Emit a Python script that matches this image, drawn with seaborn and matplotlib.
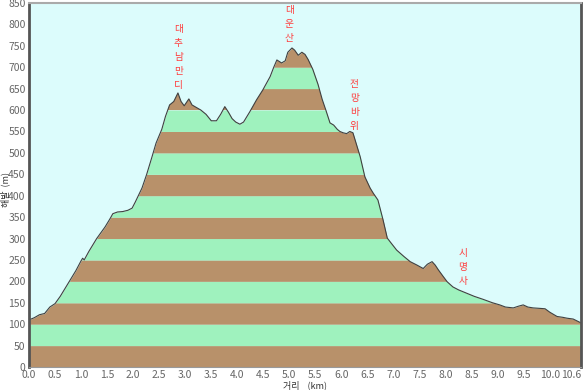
import numpy as np
import pandas as pd
import matplotlib
matplotlib.use("Agg")
import matplotlib.pyplot as plt
import seaborn as sns

# elevation profile (distance km, elevation m)
dist_km = [0.0, 0.1, 0.2, 0.3, 0.4, 0.5, 0.6, 0.75, 0.9, 1.0, 1.03, 1.06, 1.15, 1.3,
           1.46, 1.55, 1.61, 1.7, 1.8, 1.9, 1.98, 2.04, 2.17, 2.26, 2.36, 2.44, 2.55,
           2.62, 2.7, 2.78, 2.86, 2.92, 2.98, 3.07, 3.13, 3.2, 3.3, 3.4, 3.5, 3.6,
           3.68, 3.76, 3.83, 3.9, 3.97, 4.05, 4.12, 4.24, 4.37, 4.49, 4.63, 4.7,
           4.76, 4.85, 4.92, 4.97, 5.05, 5.1, 5.17, 5.24, 5.3, 5.36, 5.45, 5.55,
           5.63, 5.7, 5.78, 5.85, 5.92, 5.97, 6.03, 6.1, 6.16, 6.22, 6.3, 6.36,
           6.45, 6.55, 6.61, 6.7, 6.8, 6.88, 6.95, 7.06, 7.2, 7.32, 7.45, 7.57,
           7.65, 7.74, 7.8, 7.86, 7.95, 8.03, 8.14, 8.25, 8.41, 8.55, 8.72, 8.9,
           9.04, 9.15, 9.3, 9.4, 9.49, 9.58, 9.68, 9.8, 9.91, 10.0, 10.14, 10.25,
           10.33, 10.45, 10.6]
elev_m = [110, 115, 122, 125, 140, 148, 165, 195, 225, 248, 254, 250, 270, 300,
          327, 345, 358, 362, 363, 366, 371, 385, 418, 450, 490, 523, 555,
          585, 612, 620, 640, 620, 610, 626, 612, 607, 600, 590, 575, 575,
          590, 608, 595, 580, 572, 567, 572, 596, 624, 647, 678, 700,
          717, 710, 715, 735, 745, 740, 728, 735, 730, 718, 695, 660,
          625, 600, 570, 565, 555, 550, 547, 545, 550, 547, 515, 491,
          444, 418, 406, 390, 343, 301, 290, 273, 258, 246, 238, 230,
          240, 246, 238, 227, 212, 199, 187, 180, 172, 165, 158, 150,
          145, 140, 138, 142, 145, 140, 138, 137, 136, 128, 118, 116,
          114, 112, 103]

# place names (vertical labels)
place_names = ["대추남만디", "대운산", "전망바위", "시명사"]
place_km = [2.87, 5.0, 6.25, 8.33]
place_top_m = [800, 845, 673, 278]

band_step = 50
y_max = 850
x_ticks = [0.0, 0.5, 1.0, 1.5, 2.0, 2.5, 3.0, 3.5, 4.0, 4.5, 5.0, 5.5, 6.0, 6.5,
           7.0, 7.5, 8.0, 8.5, 9.0, 9.5, 10.0, 10.6]

sns.set_style("white")
plt.rcParams["font.family"] = ["Noto Sans CJK KR", "DejaVu Sans"]

df = pd.DataFrame({"dist": dist_km, "elev": elev_m})

fig = plt.figure(figsize=(5.83, 3.90), dpi=100)
ax = fig.add_axes([29 / 583, 1 - 367 / 390, 552 / 583, 364 / 390])
ax.set_facecolor("#dcfcfc")

# fine grid so the band clipping follows the profile
xs = np.linspace(0, 10.6, 2000)
ys = np.interp(xs, df["dist"], df["elev"])
brown, green = "#b8916a", "#9ff2be"
for i, lo in enumerate(range(0, y_max, band_step)):
    hi = lo + band_step
    top = np.clip(ys, lo, hi)
    ax.fill_between(xs, lo, top, where=ys > lo, interpolate=True,
                    color=brown if i % 2 == 0 else green, linewidth=0)

sns.lineplot(data=df, x="dist", y="elev", ax=ax, color="#404040", linewidth=0.8)

for name, k, t in zip(place_names, place_km, place_top_m):
    ax.text(k, t, "\n".join(name), color="#ff3c3c", fontsize=7, ha="center",
            va="top", linespacing=1.5)

ax.set_xlim(0, 10.6)
ax.set_ylim(0, y_max)
ax.set_xticks(x_ticks)
ax.set_xticklabels([f"{v:.1f}" for v in x_ticks])
ax.get_xticklabels()[-1].set_horizontalalignment("right")
ax.set_yticks(range(0, y_max + 1, 50))
ax.tick_params(axis="both", labelsize=7.5, labelcolor="#666666", color="#666666",
               length=2, width=0.8, direction="out", pad=0.5)
ax.set_xlabel("")
ax.set_ylabel("")

for side in ["left", "right"]:
    ax.spines[side].set_color("#555555")
    ax.spines[side].set_linewidth(2)
ax.spines["top"].set_color("#aaaaaa")
ax.spines["top"].set_linewidth(1.5)
ax.spines["bottom"].set_color("#999999")
ax.spines["bottom"].set_linewidth(0.8)

fig.text(305 / 583, 1 - 385 / 390, "거리    (km)", ha="center", va="center",
         fontsize=6.5, color="#333333")
fig.text(5 / 583, 1 - 189 / 390, "해발  (m)", ha="center", va="center",
         rotation=90, fontsize=6.5, color="#333333")

fig.savefig("out.png", dpi=100)
